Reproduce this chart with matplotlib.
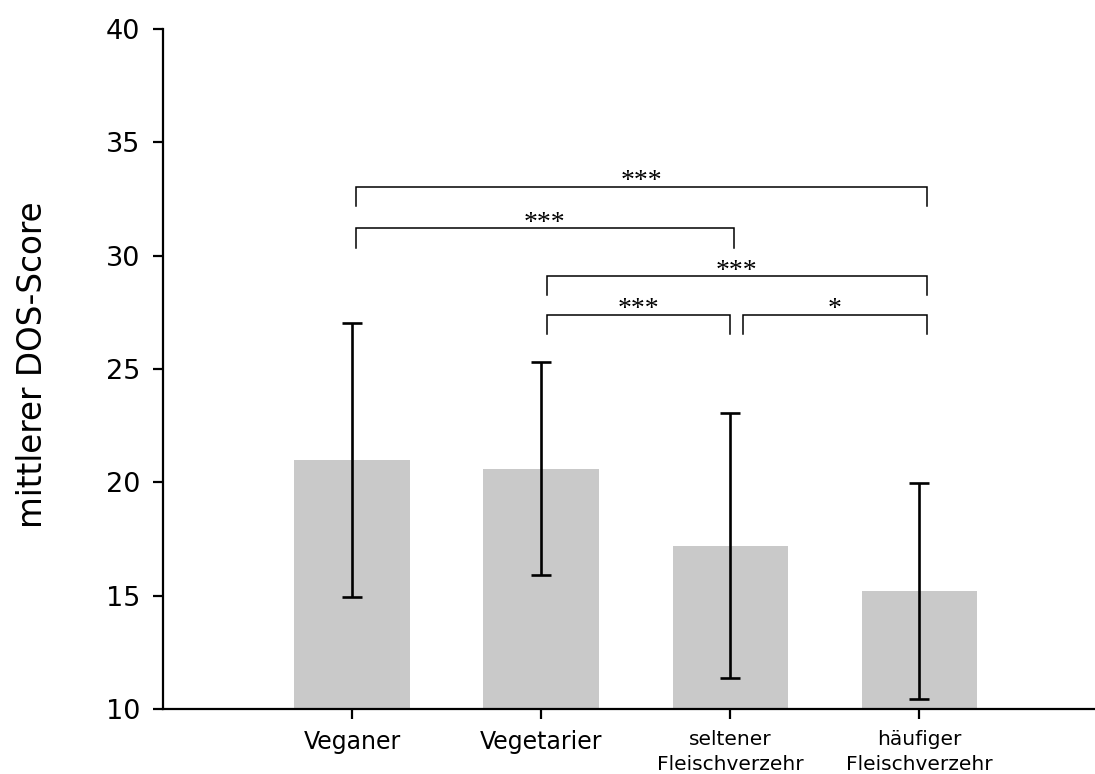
import numpy as np
import matplotlib
matplotlib.use('Agg')
import matplotlib.pyplot as plt

# mean DOS score per diet group with standard deviation
groups = ['Veganer', 'Vegetarier', 'seltener\nFleischverzehr', 'häufiger\nFleischverzehr']
means = [21.0, 20.6, 17.2, 15.2]
sds = [6.05, 4.7, 5.85, 4.78]

# significance brackets: left end, right end, height, stars
br_left = [0.02, 0.02, 1.03, 1.03, 2.07]
br_right = [3.04, 2.02, 3.04, 2.0, 3.04]
br_height = [33.05, 31.2, 29.1, 27.4, 27.4]
br_stars = ['***', '***', '***', '***', '*']
drop = 0.84

plt.rcParams['font.family'] = 'DejaVu Sans'

fig = plt.figure(figsize=(10.95, 7.74), dpi=100)
ax = fig.add_axes([0.1489, 0.084, 0.8511, 0.8785])

x = np.arange(len(groups))
ax.bar(x, means, width=0.61, color='#c9c9c9', zorder=1)
ax.errorbar(x, means, yerr=sds, fmt='none', ecolor='black', elinewidth=1.9,
            capsize=7.5, capthick=1.9, zorder=3)

for x1, x2, h, s in zip(br_left, br_right, br_height, br_stars):
    ax.plot([x1, x1, x2, x2], [h - drop, h, h, h - drop], color='black', lw=1.1,
            solid_joinstyle='miter', zorder=2)
    ax.text((x1 + x2) / 2, h + 0.22, s, ha='center', va='center',
            fontsize=20, family='Liberation Serif')

ax.set_xlim(-1.0, 3.93)
ax.set_ylim(10, 40)
ax.set_yticks(np.arange(10, 41, 5))
ax.set_xticks(x)
ax.set_xticklabels(groups)
for lab, fs in zip(ax.get_xticklabels(), [17, 17, 14.5, 14.5]):
    lab.set_fontsize(fs)
    lab.set_linespacing(1.4)

ax.tick_params(axis='y', labelsize=19.5, length=7.2, width=1.6, pad=9)
ax.tick_params(axis='x', length=7.2, width=1.6, pad=8)
for side in ['top', 'right']:
    ax.spines[side].set_visible(False)
for side in ['left', 'bottom']:
    ax.spines[side].set_linewidth(1.6)

fig.text(33 / 1095, 1 - 365 / 774, 'mittlerer DOS-Score', rotation=90,
         ha='center', va='center', fontsize=23.5)

fig.savefig('out.png', dpi=100)
